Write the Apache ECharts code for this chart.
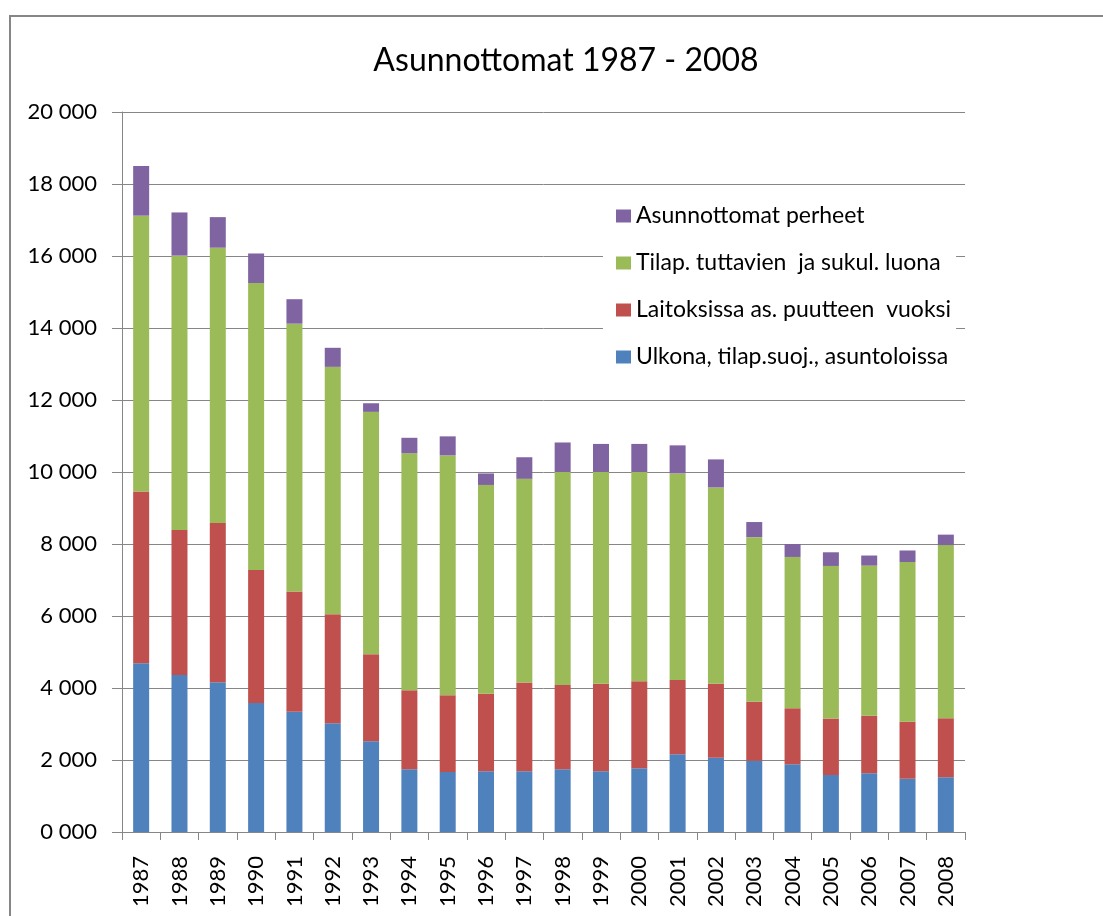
<!DOCTYPE html>
<html>
<head>
<meta charset="utf-8">
<script src="https://cdn.jsdelivr.net/npm/echarts@6/dist/echarts.min.js"></script>
<style>
  html, body { margin: 0; padding: 0; background: #fff; }
  #chart { width: 1103px; height: 916px; }
</style>
</head>
<body>
<div id="chart"></div>
<script>
// vuodet
var years = ['1987', '1988', '1989', '1990', '1991', '1992', '1993', '1994', '1995', '1996', '1997',
	'1998', '1999', '2000', '2001', '2002', '2003', '2004', '2005', '2006', '2007', '2008'];

// Ulkona, tilap.suoj., asuntoloissa
var ulkona = [4690, 4360, 4160, 3580, 3340, 3020, 2520, 1740, 1670, 1690, 1690,
	1740, 1690, 1770, 2160, 2060, 1980, 1880, 1580, 1630, 1480, 1520];
// Laitoksissa as. puutteen vuoksi
var laitoksissa = [4770, 4030, 4420, 3700, 3340, 3030, 2420, 2200, 2130, 2150, 2460,
	2340, 2430, 2420, 2060, 2060, 1640, 1560, 1570, 1600, 1580, 1640];
// Tilap. tuttavien ja sukul. luona
var tuttavien = [7660, 7620, 7650, 7970, 7440, 6870, 6730, 6580, 6660, 5800, 5660,
	5920, 5880, 5810, 5740, 5450, 4570, 4200, 4240, 4170, 4440, 4810];
// Asunnottomat perheet
var perheet = [1380, 1200, 850, 820, 680, 530, 240, 430, 530, 320, 600,
	820, 780, 780, 780, 780, 420, 360, 380, 280, 320, 290];

var seriesNames = ['Ulkona, tilap.suoj., asuntoloissa', 'Laitoksissa as. puutteen  vuoksi',
	'Tilap. tuttavien  ja sukul. luona', 'Asunnottomat perheet'];
var seriesColors = ['#4F81BD', '#C0504D', '#9BBB59', '#8064A2'];
var seriesData = [ulkona, laitoksissa, tuttavien, perheet];

var FONT = 'Lato';
var gray = '#868686';

var series = seriesNames.map(function(name, i) {
	return {
		name : name,
		type : 'bar',
		stack : 'total',
		barWidth : 16,
		itemStyle : {
			color : seriesColors[i]
		},
		data : seriesData[i]
	};
});

var option = {
	animation : false,
	backgroundColor : '#fff',
	title : {
		text : 'Asunnottomat 1987 - 2008',
		left : 561,
		top : 40,
		textAlign : 'center',
		textStyle : {
			fontFamily : FONT,
			fontSize : 32,
			fontWeight : 'normal',
			color : '#000'
		}
	},
	// kehys
	graphic : [ {
		type : 'rect',
		shape : { x : 10, y : 16, width : 1200, height : 1000 },
		style : { fill : 'none', stroke : gray, lineWidth : 2 },
		silent : true
	} ],
	legend : {
		orient : 'vertical',
		left : 603,
		top : 190,
		padding : [ 14, 5, 20, 13 ],
		backgroundColor : '#fff',
		itemWidth : 15,
		itemHeight : 13,
		itemGap : 23,
		icon : 'rect',
		data : seriesNames.slice().reverse(),
		textStyle : {
			fontFamily : FONT,
			fontSize : 23,
			lineHeight : 24,
			color : '#000'
		}
	},
	grid : {
		left : 122,
		right : 138,
		top : 112,
		bottom : 84
	},
	xAxis : {
		type : 'category',
		data : years,
		boundaryGap : true,
		axisLine : { lineStyle : { color : gray, width : 1 } },
		axisTick : { show : true, length : 8, lineStyle : { color : gray } },
		axisLabel : {
			rotate : 90,
			margin : 24,
			interval : 0,
			fontFamily : FONT,
			fontSize : 22,
			color : '#000'
		}
	},
	yAxis : {
		type : 'value',
		min : 0,
		max : 20000,
		interval : 2000,
		axisLine : { show : true, lineStyle : { color : gray, width : 1 } },
		axisTick : { show : true, length : 10, lineStyle : { color : gray } },
		splitLine : { lineStyle : { color : gray, width : 1 } },
		axisLabel : {
			margin : 25,
			fontFamily : FONT,
			fontSize : 22,
			color : '#000',
			formatter : function(v) {
				return (v === 0 ? '0' : String(v / 1000)) + ' 000';
			}
		}
	},
	series : series
};

var myChart = echarts.init(document.getElementById('chart'));
myChart.setOption(option);
</script>
</body>
</html>
